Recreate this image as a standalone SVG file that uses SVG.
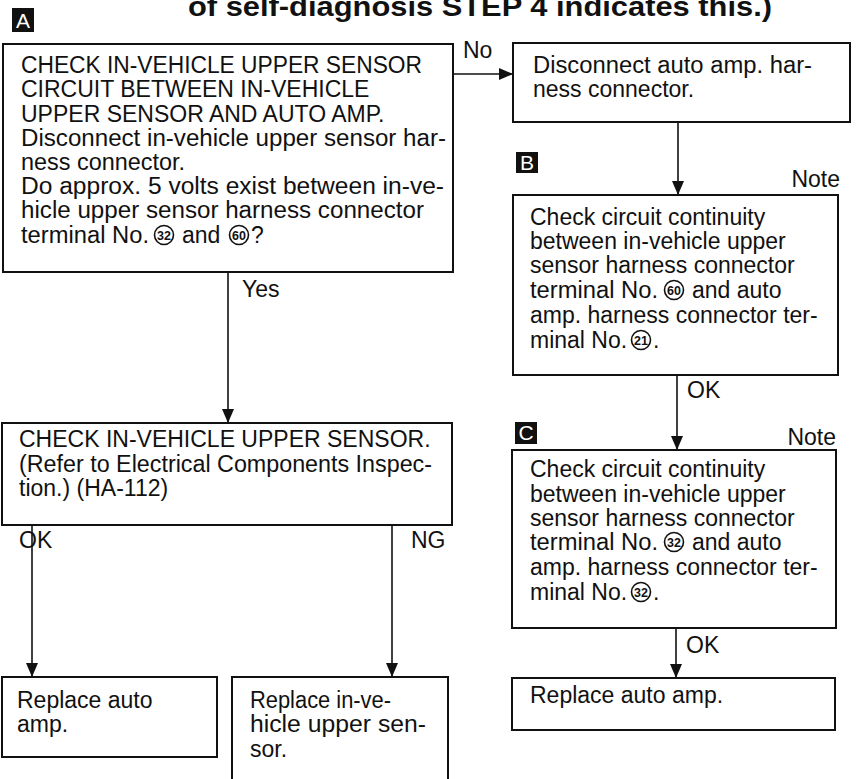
<svg xmlns="http://www.w3.org/2000/svg" width="856" height="779" viewBox="0 0 856 779">
<style>
.box{fill:#fff;stroke:#111;stroke-width:2}
.t{font-family:"Liberation Sans",Arial,Helvetica,sans-serif;font-size:23px;fill:#111}
.ttl{font-family:"Liberation Sans",Arial,Helvetica,sans-serif;font-size:27px;font-weight:bold;fill:#111}
.lbl{font-family:"Liberation Sans",Arial,Helvetica,sans-serif;font-size:21px;fill:#fff}
.cn{fill:none;stroke:#111;stroke-width:1.6}
.cnum{font-family:"Liberation Sans",Arial,Helvetica,sans-serif;font-size:12.5px;font-weight:bold;fill:#111;text-anchor:middle}
.ln{fill:none;stroke:#111;stroke-width:1.6}
</style>
<defs>
<marker id="ah" markerWidth="14" markerHeight="12" refX="14" refY="6" orient="auto" markerUnits="userSpaceOnUse">
<path d="M0,0 L14,6 L0,12 Z" fill="#111"/>
</marker>
</defs>
<text class="ttl" x="188" y="16" textLength="584" lengthAdjust="spacingAndGlyphs">of self-diagnosis STEP 4 indicates this.)</text>
<g id="connectors">
<line class="ln" x1="453" y1="74" x2="513" y2="74" marker-end="url(#ah)"/>
<line class="ln" x1="678" y1="122" x2="678" y2="195" marker-end="url(#ah)"/>
<line class="ln" x1="677" y1="375" x2="677" y2="450" marker-end="url(#ah)"/>
<line class="ln" x1="676" y1="628" x2="676" y2="678" marker-end="url(#ah)"/>
<line class="ln" x1="228" y1="272" x2="228" y2="423" marker-end="url(#ah)"/>
<line class="ln" x1="32" y1="525" x2="32" y2="677" marker-end="url(#ah)"/>
<line class="ln" x1="392" y1="525" x2="392" y2="677" marker-end="url(#ah)"/>
<text class="t" x="463" y="58">No</text>
<text class="t" x="242" y="297">Yes</text>
<text class="t" x="687" y="398">OK</text>
<text class="t" x="686" y="653">OK</text>
<text class="t" x="19" y="548">OK</text>
<text class="t" x="411" y="548">NG</text>
</g>
<g id="nodeA">
<rect x="12" y="8" width="22" height="24" fill="#111"/>
<text class="lbl" x="23" y="28" text-anchor="middle">A</text>
<rect class="box" x="3" y="44" width="450" height="228"/>
<text class="t" x="21" y="73" textLength="401" lengthAdjust="spacingAndGlyphs">CHECK IN-VEHICLE UPPER SENSOR</text>
<text class="t" x="21" y="97">CIRCUIT BETWEEN IN-VEHICLE</text>
<text class="t" x="21" y="122">UPPER SENSOR AND AUTO AMP.</text>
<text class="t" x="21" y="146" textLength="425" lengthAdjust="spacingAndGlyphs">Disconnect in-vehicle upper sensor har-</text>
<text class="t" x="21" y="170" textLength="164" lengthAdjust="spacingAndGlyphs">ness connector.</text>
<text class="t" x="21" y="194" textLength="423" lengthAdjust="spacingAndGlyphs">Do approx. 5 volts exist between in-ve-</text>
<text class="t" x="21" y="218" textLength="403" lengthAdjust="spacingAndGlyphs">hicle upper sensor harness connector</text>
<text class="t" x="21" y="243" textLength="128" lengthAdjust="spacingAndGlyphs">terminal No.</text>
<circle class="cn" cx="164" cy="235" r="9.5"/><text class="cnum" x="164" y="239.5">32</text>
<text class="t" x="182" y="243">and</text>
<circle class="cn" cx="239" cy="235" r="9.5"/><text class="cnum" x="239" y="239.5">60</text>
<text class="t" x="251" y="243">?</text>
</g>
<g id="nodeN1">
<rect class="box" x="513" y="43" width="337" height="79"/>
<text class="t" x="533" y="73" textLength="279" lengthAdjust="spacingAndGlyphs">Disconnect auto amp. har-</text>
<text class="t" x="533" y="97">ness connector.</text>
</g>
<g id="nodeB">
<rect x="516" y="152" width="22" height="21" fill="#111"/>
<text class="lbl" x="527" y="170" text-anchor="middle">B</text>
<text class="t" x="840" y="187" text-anchor="end">Note</text>
<rect class="box" x="513" y="195" width="325" height="180"/>
<text class="t" x="530" y="225">Check circuit continuity</text>
<text class="t" x="530" y="249">between in-vehicle upper</text>
<text class="t" x="530" y="273">sensor harness connector</text>
<text class="t" x="530" y="298" textLength="128" lengthAdjust="spacingAndGlyphs">terminal No.</text>
<circle class="cn" cx="674" cy="290" r="9.5"/><text class="cnum" x="674" y="294.5">60</text>
<text class="t" x="692" y="298">and auto</text>
<text class="t" x="530" y="323">amp. harness connector ter-</text>
<text class="t" x="530" y="348">minal No.</text>
<circle class="cn" cx="641" cy="340" r="9.5"/><text class="cnum" x="641" y="344.5">21</text>
<text class="t" x="653" y="348">.</text>
</g>
<g id="nodeC">
<rect x="515" y="422" width="22" height="22" fill="#111"/>
<text class="lbl" x="526" y="440" text-anchor="middle">C</text>
<text class="t" x="836" y="445" text-anchor="end">Note</text>
<rect class="box" x="512" y="450" width="324" height="178"/>
<text class="t" x="530" y="477">Check circuit continuity</text>
<text class="t" x="530" y="502">between in-vehicle upper</text>
<text class="t" x="530" y="526">sensor harness connector</text>
<text class="t" x="530" y="550" textLength="128" lengthAdjust="spacingAndGlyphs">terminal No.</text>
<circle class="cn" cx="674" cy="542" r="9.5"/><text class="cnum" x="674" y="546.5">32</text>
<text class="t" x="692" y="550">and auto</text>
<text class="t" x="530" y="575">amp. harness connector ter-</text>
<text class="t" x="530" y="600">minal No.</text>
<circle class="cn" cx="641" cy="592" r="9.5"/><text class="cnum" x="641" y="596.5">32</text>
<text class="t" x="653" y="600">.</text>
</g>
<g id="nodeR3">
<rect class="box" x="512" y="678" width="323" height="52"/>
<text class="t" x="530" y="703">Replace auto amp.</text>
</g>
<g id="nodeD">
<rect class="box" x="2" y="423" width="450" height="102"/>
<text class="t" x="19" y="447">CHECK IN-VEHICLE UPPER SENSOR.</text>
<text class="t" x="19" y="472" textLength="413" lengthAdjust="spacingAndGlyphs">(Refer to Electrical Components Inspec-</text>
<text class="t" x="19" y="496">tion.) (HA-112)</text>
</g>
<g id="nodeR1">
<rect class="box" x="2" y="677" width="215" height="80"/>
<text class="t" x="17" y="708">Replace auto</text>
<text class="t" x="17" y="732">amp.</text>
</g>
<g id="nodeR2">
<rect class="box" x="232" y="677" width="216" height="110"/>
<text class="t" x="250" y="708" textLength="141" lengthAdjust="spacingAndGlyphs">Replace in-ve-</text>
<text class="t" x="250" y="732" textLength="176" lengthAdjust="spacingAndGlyphs">hicle upper sen-</text>
<text class="t" x="250" y="757">sor.</text>
</g>
</svg>
